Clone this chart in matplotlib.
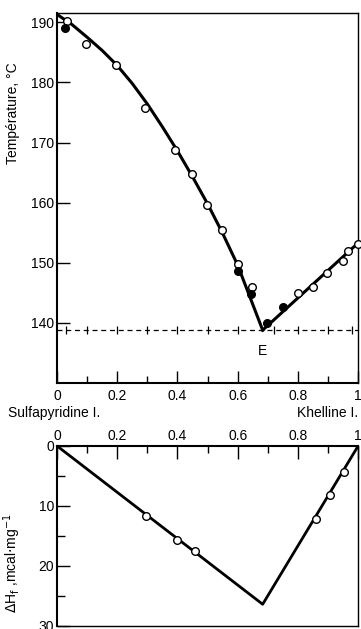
import matplotlib
matplotlib.use("Agg")
import matplotlib.pyplot as plt
from matplotlib.ticker import MultipleLocator, FixedLocator

plt.rcParams["font.family"] = ["Liberation Sans", "DejaVu Sans"]
plt.rcParams["font.size"] = 10

# liquidus curves
liq_left_x = [0.0, 0.05, 0.1, 0.15, 0.2, 0.25, 0.3, 0.35, 0.4, 0.45, 0.5, 0.55, 0.6, 0.683]
liq_left_t = [191.3, 189.6, 187.5, 185.3, 182.8, 179.8, 176.4, 172.6, 168.6, 164.3, 159.8, 154.9, 149.6, 138.8]
liq_right_x = [0.683, 1.0]
liq_right_t = [138.8, 153.3]
eutectic_t = 138.8
eutectic_ticks = [0.03, 0.1, 0.2, 0.3, 0.4, 0.5, 0.6, 0.72, 0.8, 0.9, 0.98]

# measured points, top panel
open_x = [0.033, 0.097, 0.197, 0.293, 0.393, 0.447, 0.497, 0.547, 0.6, 0.647,
          0.8, 0.85, 0.897, 0.95, 0.967, 1.0]
open_t = [190.2, 186.3, 182.9, 175.7, 168.7, 164.8, 159.6, 155.4, 149.8, 146.0,
          145.0, 146.0, 148.3, 150.3, 152.0, 153.1]
fill_x = [0.027, 0.6, 0.643, 0.697, 0.75]
fill_t = [189.0, 148.6, 144.8, 140.0, 142.7]

# enthalpy of fusion, bottom panel
dh_line_x = [0.0, 0.683, 1.0]
dh_line_y = [0.0, 26.4, 0.0]
dh_x = [0.297, 0.4, 0.457, 0.86, 0.907, 0.953]
dh_y = [11.7, 15.7, 17.5, 12.2, 8.2, 4.4]

x_ticks = [0, 0.2, 0.4, 0.6, 0.8, 1.0]
x_labels = ["0", "0.2", "0.4", "0.6", "0.8", "1"]

fig = plt.figure(figsize=(3.61, 6.29), dpi=100)
ax1 = fig.add_axes([0.158, 0.391, 0.834, 0.588])
ax2 = fig.add_axes([0.158, 0.005, 0.834, 0.286])

# top panel
ax1.plot(liq_left_x, liq_left_t, color="black", lw=2.2, zorder=2)
ax1.plot(liq_right_x, liq_right_t, color="black", lw=2.2, zorder=2)
ax1.axhline(eutectic_t, color="black", lw=0.9, ls=(0, (4, 3)), zorder=1)
ax1.plot(eutectic_ticks, [eutectic_t] * len(eutectic_ticks), ls="none",
         marker="|", ms=6, mew=0.9, color="black")
ax1.plot(open_x, open_t, ls="none", marker="o", ms=5.5, mfc="white",
         mec="black", mew=1.0, zorder=3, clip_on=False)
ax1.plot(fill_x, fill_t, ls="none", marker="o", ms=5.5, mfc="black",
         mec="black", zorder=3, clip_on=False)
ax1.text(0.683, 136.5, "E", ha="center", va="top", fontsize=10)

ax1.set_xlim(0, 1)
ax1.set_ylim(130, 191.5)
ax1.set_xticks(x_ticks)
ax1.set_xticklabels(x_labels)
ax1.xaxis.set_minor_locator(FixedLocator([0.1, 0.3, 0.5, 0.7, 0.9]))
ax1.yaxis.set_major_locator(FixedLocator([140, 150, 160, 170, 180, 190]))
ax1.tick_params(axis="x", which="major", direction="in", length=9, width=1.0, pad=4)
ax1.tick_params(axis="x", which="minor", direction="in", length=5, width=1.0)
ax1.tick_params(axis="y", which="major", direction="in", length=9, width=1.0, pad=2)
for side in ["left", "bottom"]:
    ax1.spines[side].set_linewidth(1.5)
for side in ["top", "right"]:
    ax1.spines[side].set_linewidth(1.0)

fig.text(0.035, 0.82, "Température, °C", rotation=90, ha="center", va="center", fontsize=10)
fig.text(0.022, 0.343, "Sulfapyridine I.", ha="left", va="center", fontsize=10)
fig.text(0.992, 0.343, "Khelline I.", ha="right", va="center", fontsize=10)

# bottom panel
ax2.plot(dh_line_x, dh_line_y, color="black", lw=2.0, zorder=2)
ax2.plot(dh_x, dh_y, ls="none", marker="o", ms=5.5, mfc="white",
         mec="black", mew=1.0, zorder=3)
ax2.set_xlim(0, 1)
ax2.set_ylim(30, 0)
ax2.xaxis.tick_top()
ax2.set_xticks(x_ticks)
ax2.set_xticklabels(x_labels)
ax2.xaxis.set_minor_locator(FixedLocator([0.1, 0.3, 0.5, 0.7, 0.9]))
ax2.yaxis.set_major_locator(MultipleLocator(10))
ax2.yaxis.set_minor_locator(MultipleLocator(5))
ax2.tick_params(axis="x", which="major", direction="in", length=9, width=1.0, pad=2)
ax2.tick_params(axis="x", which="minor", direction="in", length=5, width=1.0)
ax2.tick_params(axis="y", which="major", direction="in", length=9, width=1.0, pad=2)
ax2.tick_params(axis="y", which="minor", direction="in", length=6, width=1.0)
for side in ["left", "top"]:
    ax2.spines[side].set_linewidth(1.5)
for side in ["bottom", "right"]:
    ax2.spines[side].set_linewidth(1.0)

fig.text(0.035, 0.105, r"$\Delta$H$_\mathrm{f}$ ,mcal$\cdot$mg$^{-1}$", rotation=90,
         ha="center", va="center", fontsize=10)

fig.savefig("out.png", dpi=100)
